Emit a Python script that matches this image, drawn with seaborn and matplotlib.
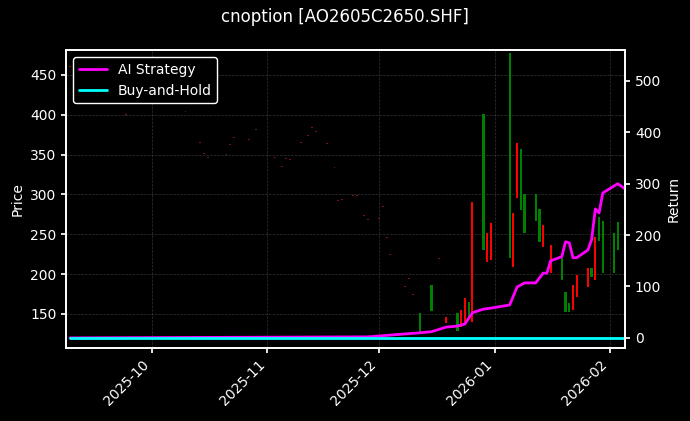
import pandas as pd
import numpy as np
import matplotlib.pyplot as plt
import matplotlib.dates as mdates
import seaborn as sns

# trading days with (almost) no movement before the option became active
flat_dates = ["2025-09-09", "2025-09-24", "2025-10-10", "2025-10-14", "2025-10-15", "2025-10-16",
              "2025-10-21", "2025-10-22", "2025-10-23", "2025-10-27", "2025-10-29", "2025-10-30",
              "2025-11-03", "2025-11-05", "2025-11-06", "2025-11-07", "2025-11-10", "2025-11-12",
              "2025-11-13", "2025-11-14", "2025-11-17", "2025-11-19", "2025-11-20", "2025-11-21",
              "2025-11-24", "2025-11-25", "2025-11-27", "2025-11-28", "2025-12-01", "2025-12-02",
              "2025-12-03", "2025-12-04", "2025-12-08", "2025-12-09", "2025-12-10", "2025-12-17"]
flat_price = [461, 400, 404, 365, 351, 346, 350, 362, 371, 369, 381, 387,
              346, 335, 345, 344, 365, 374, 384, 379, 364, 334, 292, 294,
              299, 299, 274, 269, 270, 285, 246, 224, 184, 194, 174, 219]

# active candles
candle_dates = ["2025-12-12", "2025-12-15", "2025-12-19", "2025-12-22", "2025-12-23", "2025-12-24",
                "2025-12-25", "2025-12-26", "2025-12-29", "2025-12-30", "2025-12-31", "2026-01-05",
                "2026-01-06", "2026-01-07", "2026-01-08", "2026-01-09", "2026-01-12", "2026-01-13",
                "2026-01-14", "2026-01-16", "2026-01-19", "2026-01-20", "2026-01-21", "2026-01-22",
                "2026-01-23", "2026-01-26", "2026-01-27", "2026-01-28", "2026-01-29", "2026-01-30",
                "2026-02-02", "2026-02-03"]
candle_open = [126, 154, 146, 128, 155, 170, 146, 290, 230, 252, 264, 220,
               276, 365, 280, 251, 267, 240, 261, 236, 192, 152, 152, 186,
               199, 207, 196, 246, 242, 201, 201, 230]
candle_close = [151, 186, 139, 151, 134, 139, 165, 140, 401, 215, 217, 477,
                209, 296, 357, 301, 301, 282, 234, 201, 220, 177, 164, 155,
                171, 184, 207, 192, 271, 267, 252, 265]

# strategy return (%) sampled on selected days
ret_dates = ["2025-09-09", "2025-11-28", "2025-12-12", "2025-12-15", "2025-12-19", "2025-12-22",
             "2025-12-24", "2025-12-26", "2025-12-29", "2025-12-31", "2026-01-05", "2026-01-07",
             "2026-01-09", "2026-01-12", "2026-01-14", "2026-01-15", "2026-01-16", "2026-01-19",
             "2026-01-20", "2026-01-21", "2026-01-22", "2026-01-23", "2026-01-26", "2026-01-27",
             "2026-01-28", "2026-01-29", "2026-01-30", "2026-02-03", "2026-02-05"]
strategy_ret = [0, 2, 10, 12, 21, 23, 27, 49, 56, 58, 64, 99,
                107, 107, 126, 126, 150, 158, 187, 185, 156, 156, 171, 191,
                251, 243, 282, 300, 290]
buyhold_ret = [0] * len(ret_dates)

sns.set_theme(style="darkgrid", rc={
    "figure.facecolor": "black", "axes.facecolor": "black", "axes.edgecolor": "white",
    "text.color": "white", "axes.labelcolor": "white", "xtick.color": "white",
    "ytick.color": "white", "grid.color": "#555555", "grid.linestyle": "--",
    "grid.linewidth": 0.5, "xtick.bottom": True, "ytick.left": True, "ytick.right": True,
    "font.size": 10, "axes.labelsize": 10, "xtick.labelsize": 10, "ytick.labelsize": 10,
    "legend.fontsize": 10, "xtick.major.size": 3.5, "ytick.major.size": 3.5})
plt.rcParams['font.family'] = ['DejaVu Sans']

fig, ax = plt.subplots(figsize=(6.9, 4.21), dpi=100)
fig.subplots_adjust(left=0.096, right=0.906, top=0.881, bottom=0.173)

fd = pd.to_datetime(flat_dates)
ax.bar(fd, [1.2] * len(fd), bottom=np.array(flat_price) - 0.6, width=0.5,
       color="#7a1515", linewidth=0)

cd = pd.to_datetime(candle_dates)
o = np.array(candle_open)
c = np.array(candle_close)
colors = np.where(c >= o, "green", "red")
ax.bar(cd, np.abs(c - o), bottom=np.minimum(o, c), width=0.6, color=colors, linewidth=0)

ax.set_ylim(107, 481)
ax.set_ylabel("Price")
ax.set_xlim(pd.Timestamp("2025-09-08"), pd.Timestamp("2026-02-05"))
ax.xaxis.set_major_locator(mdates.MonthLocator())
ax.xaxis.set_major_formatter(mdates.DateFormatter("%Y-%m"))
plt.setp(ax.get_xticklabels(), rotation=45, ha="right")
ax.grid(True, alpha=0.6)

ax2 = ax.twinx()
df = pd.DataFrame({"date": pd.to_datetime(ret_dates), "ai": strategy_ret, "bh": buyhold_ret})
sns.lineplot(data=df, x="date", y="ai", ax=ax2, color="#ff00ff", lw=2, label="AI Strategy")
sns.lineplot(data=df, x="date", y="bh", ax=ax2, color="#00ffff", lw=2, label="Buy-and-Hold")
ax2.set_ylim(-20, 560)
ax2.set_ylabel("Return")
ax2.set_xlabel("")
ax2.grid(False)
ax2.legend_.remove()
ax2.set_xlim(pd.Timestamp("2025-09-08"), pd.Timestamp("2026-02-05"))

h, l = ax2.get_legend_handles_labels()
leg = ax.legend(h, l, loc="upper left", frameon=True, facecolor="black",
                edgecolor="white", framealpha=1, fancybox=True)
leg.get_frame().set_linewidth(1.0)
for t in leg.get_texts():
    t.set_color("white")

fig.suptitle("cnoption [AO2605C2650.SHF]", fontsize=12, color="white")
fig.savefig("out.png", dpi=100, facecolor="black")
